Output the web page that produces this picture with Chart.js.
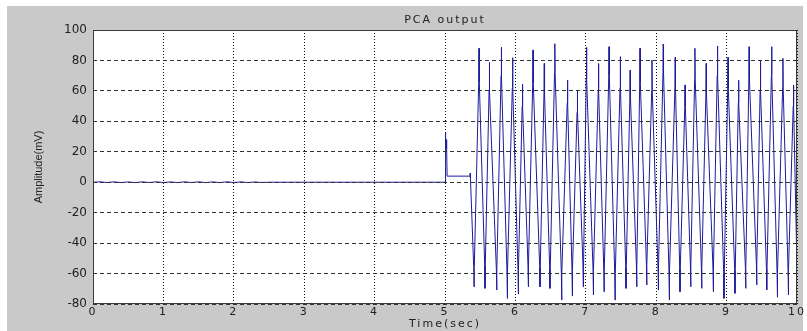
<!DOCTYPE html>
<html>
<head>
<meta charset="utf-8">
<script src="https://cdn.jsdelivr.net/npm/chart.js@4"></script>
<style>
  html, body { margin: 0; padding: 0; background: #fff; }
  canvas { display: block; }
</style>
</head>
<body>
<canvas id="pca" width="807" height="331"></canvas>
<script>
// quiet part + onset burst (sec, mV)
var quietTime = [0, 0.1, 0.2, 0.3, 0.4, 0.5, 0.6, 0.7, 0.8, 0.9, 1.0, 1.1, 1.2, 1.3, 1.4, 1.5, 1.6,
                 1.7, 1.8, 1.9, 2.0, 2.1, 2.2, 2.3, 2.4, 2.5,
                 4.995, 5.0, 5.004, 5.008, 5.012, 5.016, 5.02, 5.026, 5.03, 5.355, 5.358, 5.362];
var quietAmp  = [0, 0.25, -0.2, 0.25, -0.25, 0.2, -0.25, 0.25, -0.2, 0.25, -0.25, 0.2, -0.25, 0.25,
                 -0.2, 0.25, -0.25, 0.2, -0.25, 0.25, -0.2, 0.2, -0.2, 0.15, -0.15, 0,
                 0, 0, 33, 20, 30, 22, 28, 24, 4, 4, 6, 2];

// troughs of the oscillation, with the knee the spike comes back to
var troughTime = [5.412, 5.568, 5.734, 5.885, 6.041, 6.183, 6.349, 6.491, 6.657, 6.808,
                  6.964, 7.107, 7.259, 7.415, 7.571, 7.723, 7.865, 8.030, 8.186, 8.338,
                  8.490, 8.646, 8.811, 8.963, 9.119, 9.271, 9.427, 9.570, 9.721, 9.877];
var troughAmp  = [-68.7, -69.7, -70.8, -76.3, -73.5, -68.7, -68.7, -69.7, -77.4, -74.8,
                  -68.7, -74.1, -71.9, -77.4, -69.7, -68.7, -67.5, -70.8, -77.4, -71.9,
                  -68.7, -69.7, -71.9, -76.3, -73.0, -69.7, -67.5, -70.8, -75.6, -74.1];
var lowerKnee  = [-56, -55, -58, -60, -58, -55, -56, -57, -60, -58,
                  -55, -58, -57, -60, -56, -55, -54, -57, -60, -57,
                  -55, -56, -57, -60, -58, -56, -54, -57, -60, -58];

// peaks of the oscillation, with the knee under each spike
var peakTime = [5.483, 5.63, 5.80, 5.96, 6.10, 6.25, 6.41, 6.56, 6.74, 6.88,
                7.01, 7.18, 7.33, 7.49, 7.63, 7.77, 7.94, 8.10, 8.27, 8.41,
                8.55, 8.71, 8.87, 9.02, 9.17, 9.32, 9.48, 9.64, 9.80, 9.95];
var peakAmp  = [88, 78.8, 88.6, 81.8, 64.3, 86.9, 78, 91, 67, 60.6,
                88.6, 78, 89, 82.5, 73.7, 88, 80.3, 90.8, 82, 63.9,
                88, 78, 89.5, 82, 67, 89, 80.3, 89, 81.4, 63.9];
var upperKnee = [66, 60, 70, 62, 50, 65, 58, 72, 52, 46,
                 68, 60, 70, 62, 56, 66, 60, 72, 62, 50,
                 68, 58, 70, 62, 52, 68, 60, 70, 62, 50];

var endTime = [10.0];
var endAmp = [-57];

var xTicks = [0, 1, 2, 3, 4, 5, 6, 7, 8, 9, 10];
var yTicks = [-80, -60, -40, -20, 0, 20, 40, 60, 80, 100];

var pts = [];
function add(ts, vs) { for (var i = 0; i < ts.length; i++) pts.push({x: ts[i], y: vs[i]}); }
add(quietTime, quietAmp);
add(troughTime, troughAmp);
add(troughTime.map(function (t) { return t - 0.004; }), lowerKnee);
add(troughTime.map(function (t) { return t + 0.004; }), lowerKnee);
add(peakTime, peakAmp);
add(peakTime.map(function (t) { return t - 0.004; }), upperKnee);
add(peakTime.map(function (t) { return t + 0.004; }), upperKnee);
add(endTime, endAmp);
pts.sort(function (a, b) { return a.x - b.x; });

var frame = {
  id: 'frame',
  beforeDraw: function (c) {
    var ctx = c.ctx, a = c.chartArea;
    ctx.save();
    ctx.fillStyle = '#c9c9c9';
    ctx.fillRect(7, 6, 796, 325);
    ctx.fillStyle = '#fff';
    ctx.fillRect(a.left, a.top, a.right - a.left, a.bottom - a.top);
    ctx.restore();
    // horizontal texts of the picture are wide
    ctx.letterSpacing = '2px';
  },
  afterDatasetsDraw: function (c) {
    c.ctx.letterSpacing = '0px';
  },
  afterDraw: function (c) {
    var ctx = c.ctx, a = c.chartArea;
    ctx.save();
    ctx.strokeStyle = '#3a3a3a';
    ctx.lineWidth = 1;
    ctx.strokeRect(a.left + 0.5, a.top + 0.5, a.right - a.left - 1, a.bottom - a.top - 1);
    ctx.restore();
  }
};

Chart.defaults.font.family = '"DejaVu Sans", "Liberation Sans", sans-serif';
Chart.defaults.color = '#222';

new Chart(document.getElementById('pca'), {
  type: 'line',
  data: {
    datasets: [{
      data: pts,
      borderColor: '#1c1c9c',
      borderWidth: 1,
      pointRadius: 0,
      tension: 0,
      fill: false
    }]
  },
  options: {
    responsive: false,
    animation: false,
    events: [],
    layout: { padding: { left: 0, right: 10, top: 0, bottom: 0 } },
    plugins: {
      legend: { display: false },
      tooltip: { enabled: false },
      title: { display: false }
    },
    scales: {
      x: {
        type: 'linear',
        min: 0, max: 10,
        afterBuildTicks: function (s) { s.ticks = xTicks.map(function (v) { return {value: v}; }); },
        afterFit: function (s) { s.height = 27; },
        ticks: { font: { size: 11 }, padding: 2, maxRotation: 0, autoSkip: false, z: 0 },
        grid: { color: '#111', drawTicks: false, z: -1 },
        border: { display: false, dash: [1, 2] },
        title: { display: true, text: 'Time(sec)', font: { size: 11 }, padding: { top: 0, bottom: 0.4 } }
      },
      x2: {
        type: 'linear',
        position: 'top',
        min: 0, max: 10,
        afterFit: function (s) { s.height = 30; },
        ticks: { display: false },
        grid: { display: false },
        border: { display: false },
        title: { display: true, text: 'PCA output', font: { size: 11 }, padding: { top: 13.4, bottom: 0 } }
      },
      y: {
        min: -80, max: 100,
        afterBuildTicks: function (s) { s.ticks = yTicks.map(function (v) { return {value: v}; }); },
        afterFit: function (s) { s.width = 93; },
        ticks: { font: { size: 12 }, padding: 6, z: 2 },
        grid: { color: '#333', drawTicks: false, z: 1 },
        border: { display: false, dash: [4, 3] },
        title: { display: true, text: 'Amplitude(mV)', font: { family: '"Liberation Sans", sans-serif', size: 11 }, padding: { top: 32, bottom: 0 } }
      }
    }
  },
  plugins: [frame]
});
</script>
</body>
</html>
